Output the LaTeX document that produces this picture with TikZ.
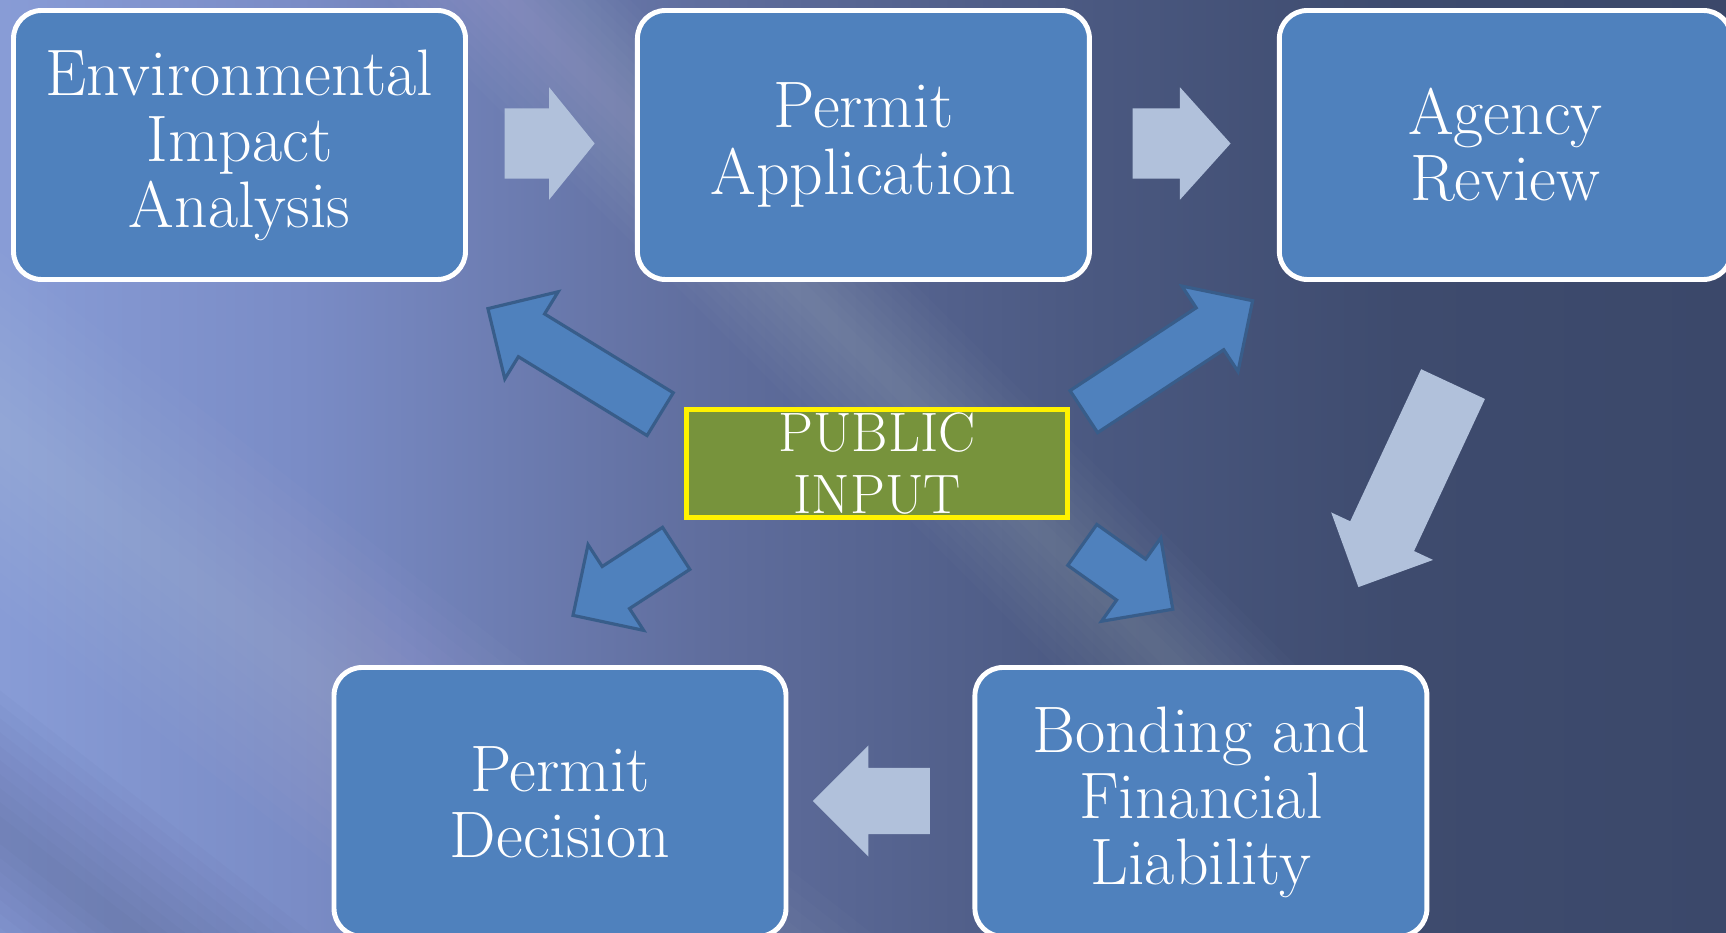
\documentclass[tikz,border=0pt]{standalone}
\usetikzlibrary{shapes.arrows,positioning,calc}

\definecolor{boxblue}{RGB}{79,129,189}
\definecolor{paleblue}{RGB}{177,193,219}
\definecolor{edgeblue}{RGB}{56,93,138}
\definecolor{inputgreen}{RGB}{119,147,60}
\definecolor{skyA}{RGB}{136,156,214}
\definecolor{skyB}{RGB}{122,140,198}
\definecolor{skyC}{RGB}{96,110,158}
\definecolor{skyD}{RGB}{74,88,128}
\definecolor{skyE}{RGB}{62,75,110}
\definecolor{skyF}{RGB}{59,72,106}
\definecolor{dusk}{RGB}{45,55,88}

\pgfdeclarehorizontalshading{sky}{100bp}{color(0bp)=(skyA); color(25bp)=(skyA);
  color(33.7bp)=(skyB); color(45.3bp)=(skyC); color(56.9bp)=(skyD);
  color(65.6bp)=(skyE); color(75bp)=(skyF); color(100bp)=(skyF)}

\begin{document}
\begin{tikzpicture}[
    font=\fontsize{18.7}{18.8}\selectfont,
    stage/.style = {draw=white, line width=1.4pt, fill=boxblue, rounded corners=0.28cm,
                    text=white, align=center, inner sep=0pt,
                    minimum width=4.52cm, minimum height=2.69cm},
    public/.style = {draw=yellow, line width=1.4pt, fill=inputgreen, text=white,
                     align=center, inner sep=0pt, minimum width=3.81cm, minimum height=1.08cm,
                     font=\fontsize{15.8}{17.8}\selectfont},
    flow/.style = {single arrow, fill=paleblue, anchor=tail, minimum width=0pt,
                   inner xsep=0pt, inner ysep=0.345cm, single arrow head extend=0.21cm},
    feed/.style = {single arrow, fill=boxblue, draw=edgeblue, line width=0.9pt,
                   anchor=tail, minimum width=0pt, inner xsep=0pt, inner ysep=0.235cm,
                   single arrow head extend=0.26cm, single arrow tip angle=90}
]
        % slide backdrop
        \useasboundingbox (0,0) rectangle (17.26,-9.33);
        \clip (0,0) rectangle (17.26,-9.33);
        \shade[shading=sky] (0,0) rectangle (17.26,-9.33);
        % soft diagonal streaks: start, angle, width, length, colour, opacity per layer
        \foreach \sx/\sy/\ang/\bw/\len/\col/\op in
            {5.1/0/-45/1.7/10.5/white/0.016, 0/-4.3/-38/2.8/26/white/0.014,
             0/-8.3/-38/2.2/26/dusk/0.022}
            \foreach \k in {1,...,10}
                \fill[\col, opacity=\op, rotate around={\ang:(\sx,\sy)}]
                    ({\sx-6},{\sy-\bw*\k/20}) rectangle ({\sx+\len},{\sy+\bw*\k/20});

        % process boxes
        \node[stage] (env) at (2.395,-1.45) {Environmental\\Impact\\Analysis};
        \node[stage, right=1.67cm of env] (app) {Permit\\Application};
        \node[stage, right=1.85cm of app] (review) {Agency\\Review};
        \node[stage] (decision) at (5.60,-8.02) {Permit\\Decision};
        \node[stage, right=1.84cm of decision] (bonding) {Bonding and\\Financial\\Liability};
        \node[public] (input) at (8.77,-4.635) {PUBLIC\\INPUT};

        % steps of the process
        \node[flow, minimum height=0.90cm, single arrow tip angle=102] (step1) at ($(env.east)+(0.36,0.015)$) {};
        \node[flow, minimum height=0.98cm, single arrow tip angle=96] (step2) at ($(app.east)+(0.40,0.015)$) {};
        \node[flow, minimum height=2.24cm, single arrow tip angle=90, rotate=245] (step3) at ($(review.south)+(-0.52,-1.015)$) {};
        \node[flow, minimum height=1.17cm, single arrow tip angle=90, rotate=180,
              inner ysep=0.325cm, single arrow head extend=0.225cm] (step4) at ($(bonding.west)+(-0.42,0.01)$) {};

        % public input reaching every step
        \node[feed, minimum height=2.02cm, rotate=148.5] (in1) at ($(input.center)+(-2.155,0.485)$) {};
        \node[feed, minimum height=2.02cm, rotate=33.3] (in2) at ($(input.center)+(2.055,0.51)$) {};
        \node[feed, minimum height=1.23cm, rotate=213] (in3) at ($(input.center)+(-1.995,-0.84)$) {};
        \node[feed, minimum height=1.11cm, rotate=-35.4] (in4) at ($(input.center)+(2.04,-0.805)$) {};
\end{tikzpicture}
\end{document}
